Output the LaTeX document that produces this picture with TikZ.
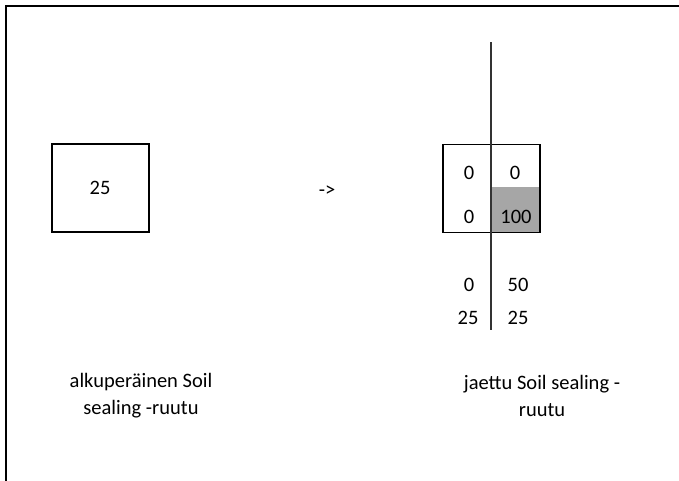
\documentclass[tikz,border=0pt]{standalone}
\usepackage{fontspec}
\setmainfont{Carlito}
\begin{document}
\begin{tikzpicture}[x=1pt,y=-1pt,
  txt/.style={font=\fontsize{20.5}{27}\selectfont, inner sep=0pt, text=black},
  cell/.style={draw=black, line width=1.4pt, inner sep=0pt, minimum width=97pt, minimum height=88pt},
  shade/.style={fill=black!35, draw=none, inner sep=0pt, minimum width=49pt, minimum height=45pt},
  captxt/.style={txt, align=center}]
\useasboundingbox (0,0) rectangle (679,480);
\draw[line width=2.2pt] (6,481) -- (6,6) -- (680,6);
% left original cell
\node[cell] (orig) at (100.5,188) {};
\node[txt] (v25) at (100,188) {25};
% arrow text
\node[txt] (arr) at (327,191) {->};
% right split cell
\node[shade] (gray) at (515.5,209.5) {};
\node[cell] (split) at (491.5,188.5) {};
\coordinate (vtop) at (491,42);
\coordinate (vbot) at (491,330);
\draw[line width=1.5pt, draw=black!80] (vtop) -- (vbot);
\node[txt] (a) at (469,173) {0};
\node[txt] (b) at (515,173) {0};
\node[txt] (c) at (469,217) {0};
\node[txt] (d) at (516,217) {100};
\node[txt] (e) at (469,285) {0};
\node[txt] (f) at (518,285) {50};
\node[txt] (g) at (468,318) {25};
\node[txt] (h) at (518,318) {25};
% captions
\node[captxt] (cl) at (141,396) {alkuperäinen Soil\\sealing -ruutu};
\node[captxt] (cr) at (542,396) {jaettu Soil sealing -\\ruutu};
\end{tikzpicture}
\end{document}
